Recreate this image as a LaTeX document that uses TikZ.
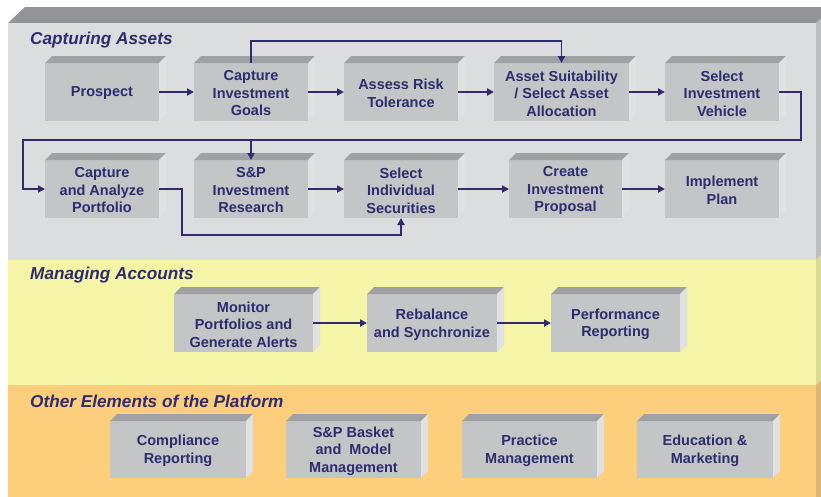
\documentclass[tikz,border=0pt]{standalone}
\usepackage{fontspec}
\setmainfont{Liberation Sans}
\usetikzlibrary{arrows.meta}
\definecolor{navy}{HTML}{2E2C6E}
\definecolor{boxfront}{HTML}{C4C5C7}
\definecolor{boxtop}{HTML}{A0A1A5}
\definecolor{boxside}{HTML}{E0E1E3}
\definecolor{grayfront}{HTML}{DCDDDF}
\definecolor{grayside}{HTML}{BDBEC0}
\definecolor{slabtop}{HTML}{929498}
\definecolor{yelfront}{HTML}{F6F4A6}
\definecolor{yelside}{HTML}{D9DB95}
\definecolor{orafront}{HTML}{FDCE7C}
\definecolor{oraside}{HTML}{DDB674}
\newcommand\boxfont{\fontsize{14.5}{17.5}\selectfont\bfseries}
\newcommand\titlefont{\fontsize{17.2}{19}\selectfont\bfseries\itshape}
\newcommand\threed[1]{%
  \fill[boxtop] (#1.north west) -- ++(7,-7) -- ([shift={(7,-7)}]#1.north east) -- (#1.north east) -- cycle;
  \fill[boxside] (#1.north east) -- ++(7,-7) -- ([shift={(7,-7)}]#1.south east) -- (#1.south east) -- cycle;
}
% name, x, y, width, height, text
\newcommand\bxnode[6]{%
  \node[bx, minimum width=#4pt, minimum height=#5pt] (#1) at (#2,#3) {};
  \threed{#1}
  \node[bxt] (#1-t) at ([yshift=-1.5pt]#1.center) {#6};
}
\tikzset{
  bx/.style={fill=boxfront, inner sep=0pt, outer sep=0pt},
  bxt/.style={inner sep=0pt, align=center, text=navy, font=\boxfont},
  ttl/.style={anchor=base west, inner sep=0pt, text=navy, font=\titlefont},
  conn/.style={draw=navy, line width=1.8pt, -{Triangle[length=7pt,width=7pt]}},
}
\begin{document}
\begin{tikzpicture}[x=1pt,y=-1pt]
\useasboundingbox (0,0) rectangle (821,496);
\clip (0,0) rectangle (821,496);
% panel
\fill[slabtop] (8,23) -- (25,7) -- (840,7) -- (816,23) -- cycle;
\fill[grayfront] (8,23) rectangle (816,260);
\fill[yelfront] (8,260) rectangle (816,385);
\fill[orafront] (8,385) rectangle (816,500);
\fill[grayside] (816,23) -- (833,7) -- (833,243) -- (816,260) -- cycle;
\fill[yelside] (816,260) -- (833,243) -- (833,368) -- (816,385) -- cycle;
\fill[oraside] (816,385) -- (833,368) -- (833,500) -- (816,500) -- cycle;
% titles
\node[ttl] (t1) at (30,44) {Capturing Assets};
\node[ttl] (t2) at (30,279) {Managing Accounts};
\node[ttl] (t3) at (30,407) {Other Elements of the Platform};
% row 1
\bxnode{prospect}{102}{92}{114}{58}{Prospect}
\bxnode{goals}{251}{92}{114}{58}{Capture\\Investment\\Goals}
\bxnode{risk}{401}{92}{114}{58}{Assess Risk\\Tolerance}
\bxnode{asset}{561.5}{92}{135}{58}{Asset Suitability\\/ Select Asset\\Allocation}
\bxnode{vehicle}{722}{92}{114}{58}{Select\\Investment\\Vehicle}
% row 2
\bxnode{portfolio}{102}{189}{114}{58}{Capture\\and Analyze\\Portfolio}
\bxnode{spres}{251}{189}{114}{58}{S\&P\\Investment\\Research}
\bxnode{securities}{401}{189}{114}{58}{Select\\Individual\\Securities}
\bxnode{proposal}{565.5}{189}{113}{58}{Create\\Investment\\Proposal}
\bxnode{implement}{722}{189}{114}{58}{Implement\\Plan}
% managing
\bxnode{monitor}{243.5}{323}{139}{58}{Monitor\\Portfolios and\\Generate Alerts}
\bxnode{rebalance}{432}{323}{130}{58}{Rebalance\\and Synchronize}
\bxnode{perf}{615.5}{323}{129}{58}{Performance\\Reporting}
% other
\bxnode{compliance}{178}{449.5}{136}{57}{Compliance\\Reporting}
\bxnode{basket}{353.5}{449.5}{135}{57}{S\&P Basket\\and\ \ Model\\Management}
\bxnode{practice}{529.5}{449.5}{135}{57}{Practice\\Management}
\bxnode{education}{705}{449.5}{136}{57}{Education \&\\Marketing}
% connectors
\coordinate (up) at (400,41);
\coordinate (r1) at (801,140);
\coordinate (l1) at (23,140);
\coordinate (b1) at (182,235);
\draw[conn] (prospect) -- (goals);
\draw[conn] (goals) -- (risk);
\draw[conn] (risk) -- (asset);
\draw[conn] (asset) -- (vehicle);
\draw[conn] (goals.north) |- (up) -| (asset.north);
\draw[conn] (vehicle.east) -| (r1) -- (l1) |- (portfolio.west);
\draw[conn] (spres.north |- r1) -- (spres.north);
\draw[conn] (spres) -- (securities);
\draw[conn] (securities) -- (proposal);
\draw[conn] (proposal) -- (implement);
\draw[conn] (portfolio.east) -| (b1) -| (securities.south);
\draw[conn] (monitor) -- (rebalance);
\draw[conn] (rebalance) -- (perf);
\end{tikzpicture}
\end{document}
